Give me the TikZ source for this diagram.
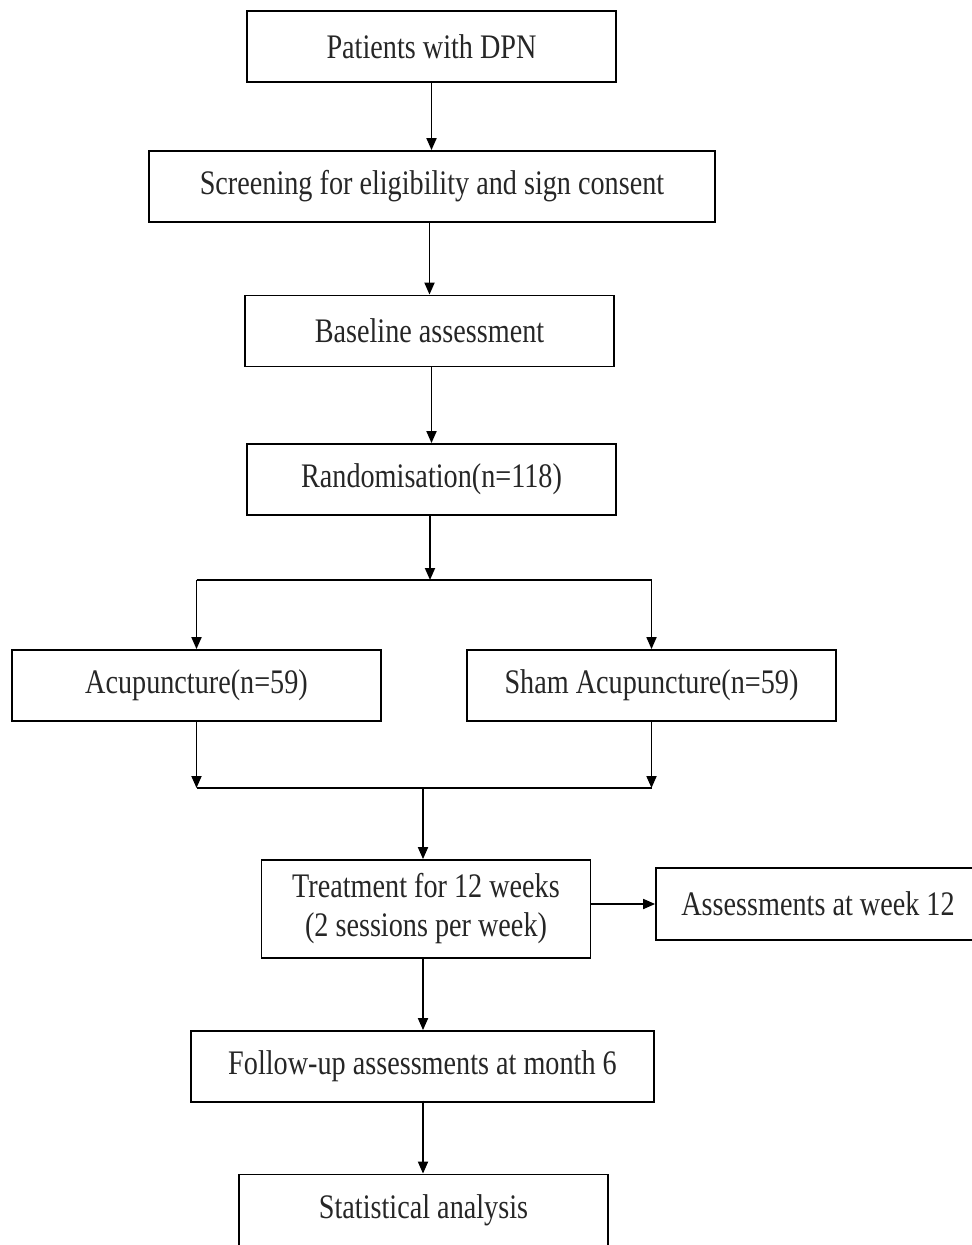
\documentclass[tikz,border=0pt]{standalone}
\usepackage{fontspec}
\usepackage{graphicx}
\setmainfont{Liberation Serif}
\usetikzlibrary{arrows.meta}
\newcommand\vst[1]{\scalebox{1}[1.22]{#1}}
\begin{document}
\begin{tikzpicture}[x=0.5pt,y=-0.5pt,
  box/.style={draw,line width=0.9pt,minimum height=35.5pt,inner sep=0pt,
    font=\fontsize{14.1}{17}\selectfont,text=black!85},
  arr/.style={line width=0.9pt,-{Triangle[length=6pt,width=5pt]}},
  ln/.style={line width=0.9pt}]
\useasboundingbox (0,0) rectangle (972,1245);
\node[box,minimum width=184.5pt] (b1) at (431.5,46.5) {\vst{Patients with DPN}};
\node[box,minimum width=283pt] (b2) at (432,186.5) {\vst{Screening for eligibility and sign consent}};
\node[box,minimum width=184.5pt] (b3) at (429.5,331) {\vst{Baseline assessment}};
\node[box,minimum width=184.5pt] (b4) at (431.5,479.5) {\vst{Randomisation(n=118)}};
\node[box,minimum width=184.5pt] (b5) at (196.5,685.5) {\vst{Acupuncture(n=59)}};
\node[box,minimum width=184.5pt] (b6) at (651.5,685.5) {\vst{Sham Acupuncture(n=59)}};
\node[box,minimum width=164.5pt,minimum height=49pt] (b7) at (426,909)
  {\vst{\begin{tabular}{@{}c@{}}Treatment for 12 weeks\\[-1pt](2 sessions per week)\end{tabular}}};
\node[box,minimum width=162pt,minimum height=36pt] (b8) at (818,904) {\vst{Assessments at week 12}};
\node[box,minimum width=231.5pt] (b9) at (422.5,1066.5) {\vst{Follow-up assessments at month 6}};
\node[box,minimum width=184.5pt] (b10) at (423.5,1210) {\vst{Statistical analysis}};
\coordinate (sp) at (430,580);
\coordinate (jn) at (423,788);
\draw[arr] (b1.south) -- (b2.north -| b1.south);
\draw[arr] (b3.north |- b2.south) -- (b3.north);
\draw[arr] (b3.south -| b4.north) -- (b4.north);
\draw[arr] (b4.south -| sp) -- (sp);
\draw[ln] (sp -| b5.north) -- (sp -| b6.north);
\draw[arr] (sp -| b5.north) -- (b5.north);
\draw[arr] (sp -| b6.north) -- (b6.north);
\draw[arr] (b5.south) -- (b5.south |- jn);
\draw[arr] (b6.south) -- (b6.south |- jn);
\draw[ln] (b5.south |- jn) -- (b6.south |- jn);
\draw[arr] (jn) -- (jn |- b7.north);
\draw[arr] (b7.east |- b8.west) -- (b8.west);
\draw[arr] (b9.north -| jn) ++(0,-73) -- (b9.north -| jn);
\draw[arr] (b10.north -| jn) ++(0,-73) -- (b10.north -| jn);
\end{tikzpicture}
\end{document}
